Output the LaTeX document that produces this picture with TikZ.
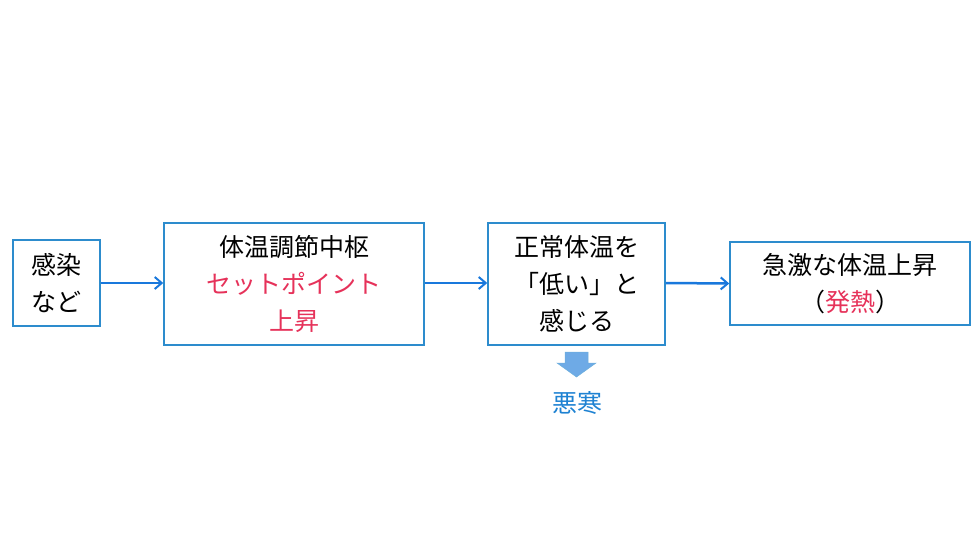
\documentclass[tikz,border=0pt]{standalone}
\usepackage{fontspec}
\usetikzlibrary{arrows.meta}
\setmainfont{Noto Sans CJK JP}
\begin{document}
\begin{tikzpicture}[x=1pt,y=-1pt,
  box/.style={draw=boxblue,line width=1.5pt,fill=white,inner sep=0pt,align=center,font=\fontsize{25}{37}\selectfont},
  conn/.style={draw=arrblue,line width=2.5pt,-{Straight Barb[length=7pt,width=12pt,line width=2pt]}}]
\definecolor{boxblue}{RGB}{45,140,205}
\definecolor{arrblue}{RGB}{25,120,220}
\definecolor{redt}{RGB}{230,50,90}
\definecolor{lblue}{RGB}{110,170,230}
\definecolor{tblue}{RGB}{30,130,210}
\useasboundingbox (0,0) rectangle (976,549);
\node[box,minimum width=87pt,minimum height=86pt] (a) at (56.5,283) {感染\\など};
\node[box,minimum width=260pt,minimum height=122pt] (b) at (294,284) {体温調節中枢\\\textcolor{redt}{セットポイント}\\\textcolor{redt}{上昇}};
\node[box,minimum width=177pt,minimum height=122pt] (c) at (576.5,284) {正常体温を\\「低い」と\\感じる};
\node[box,minimum width=240pt,minimum height=83pt] (d) at (850,283.5) {急激な体温上昇\\（\textcolor{redt}{発熱}）};
\draw[conn] (a.east) -- (b.west|-a.east);
\draw[conn] (b.east|-a.east) -- (c.west|-a.east);
\draw[conn] (c.east|-a.east) -- (d.west);
\fill[lblue,draw=boxblue!70,line width=0.5pt] (565,352) -- (588,352) -- (588,363) -- (596,363) -- (576.5,377) -- (557,363) -- (565,363) -- cycle;
\node[text=tblue,font=\fontsize{25}{30}\selectfont] (e) at (577,403) {悪寒};
\end{tikzpicture}
\end{document}
